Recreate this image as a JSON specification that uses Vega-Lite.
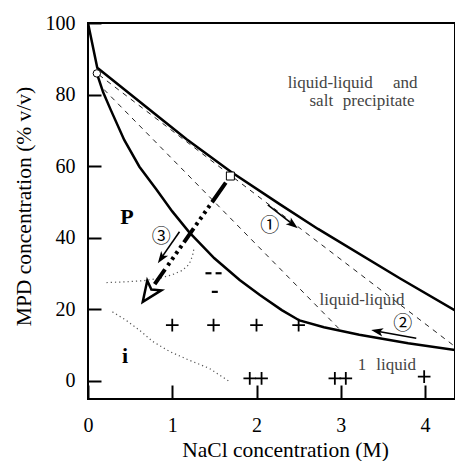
{
  "$schema": "https://vega.github.io/schema/vega-lite/v6.json",
  "width": 367,
  "height": 376,
  "autosize": {"type": "none"},
  "padding": {"left": 88, "top": 23, "right": 0, "bottom": 62},
  "background": "white",
  "config": {"view": {"stroke": "black", "strokeWidth": 2}},
  "datasets": {
    "lines": [
      {"id": "upper", "o": 0, "x": 0, "y": 100},
      {"id": "upper", "o": 1, "x": 0.11, "y": 87.5},
      {"id": "upper", "o": 2, "x": 1.17, "y": 67.5},
      {"id": "upper", "o": 3, "x": 1.7, "y": 58.3},
      {"id": "upper", "o": 4, "x": 2.27, "y": 49.4},
      {"id": "upper", "o": 5, "x": 2.73, "y": 42.4},
      {"id": "upper", "o": 6, "x": 3.7, "y": 28.6},
      {"id": "upper", "o": 7, "x": 4.356, "y": 19.6},
      {"id": "lower", "o": 0, "x": 0.105, "y": 85.9},
      {"id": "lower", "o": 1, "x": 0.18, "y": 80.6},
      {"id": "lower", "o": 2, "x": 0.27, "y": 75.7},
      {"id": "lower", "o": 3, "x": 0.43, "y": 67.3},
      {"id": "lower", "o": 4, "x": 0.61, "y": 59.8},
      {"id": "lower", "o": 5, "x": 0.81, "y": 53.5},
      {"id": "lower", "o": 6, "x": 1.0, "y": 47.3},
      {"id": "lower", "o": 7, "x": 1.2, "y": 41.5},
      {"id": "lower", "o": 8, "x": 1.5, "y": 34.2},
      {"id": "lower", "o": 9, "x": 1.8, "y": 28.1},
      {"id": "lower", "o": 10, "x": 2.04, "y": 23.9},
      {"id": "lower", "o": 11, "x": 2.3, "y": 19.7},
      {"id": "lower", "o": 12, "x": 2.51, "y": 16.8},
      {"id": "lower", "o": 13, "x": 2.8, "y": 14.9},
      {"id": "lower", "o": 14, "x": 3.22, "y": 12.8},
      {"id": "lower", "o": 15, "x": 3.8, "y": 10.4},
      {"id": "lower", "o": 16, "x": 4.356, "y": 8.5},
      {"id": "tieA", "o": 0, "x": 0.13, "y": 85.5},
      {"id": "tieA", "o": 1, "x": 4.356, "y": 9.5},
      {"id": "tieB", "o": 0, "x": 0.19, "y": 81.4},
      {"id": "tieB", "o": 1, "x": 3.0, "y": 14.0},
      {"id": "dot1", "o": 0, "x": 0.22, "y": 27.4},
      {"id": "dot1", "o": 1, "x": 0.45, "y": 27.6},
      {"id": "dot1", "o": 2, "x": 0.65, "y": 27.9},
      {"id": "dot1", "o": 3, "x": 0.85, "y": 28.6},
      {"id": "dot1", "o": 4, "x": 1.0, "y": 29.6},
      {"id": "dot1", "o": 5, "x": 1.12, "y": 30.8},
      {"id": "dot1", "o": 6, "x": 1.2, "y": 32.5},
      {"id": "dot1", "o": 7, "x": 1.24, "y": 34.8},
      {"id": "dot1", "o": 8, "x": 1.26, "y": 37.2},
      {"id": "dot2", "o": 0, "x": 0.29, "y": 19.2},
      {"id": "dot2", "o": 1, "x": 0.45, "y": 16.9},
      {"id": "dot2", "o": 2, "x": 0.61, "y": 14.1},
      {"id": "dot2", "o": 3, "x": 0.77, "y": 10.9},
      {"id": "dot2", "o": 4, "x": 0.97, "y": 8.1},
      {"id": "dot2", "o": 5, "x": 1.2, "y": 5.7},
      {"id": "dot2", "o": 6, "x": 1.44, "y": 3.4},
      {"id": "dot2", "o": 7, "x": 1.68, "y": -0.3},
      {"id": "big", "o": 0, "x": 1.69, "y": 57.2},
      {"id": "big", "o": 1, "x": 0.79, "y": 26.9},
      {"id": "a1", "o": 0, "x": 2.134, "y": 49.1},
      {"id": "a1", "o": 1, "x": 2.45, "y": 43.3},
      {"id": "a2", "o": 0, "x": 3.896, "y": 11.8},
      {"id": "a2", "o": 1, "x": 3.4, "y": 13.9},
      {"id": "a3", "o": 0, "x": 1.086, "y": 41.6},
      {"id": "a3", "o": 1, "x": 0.85, "y": 33.6}
    ],
    "heads": [
      {"id": "h1", "x": 2.49, "y": 42.6},
      {"id": "h2", "x": 3.361, "y": 14.1},
      {"id": "h3", "x": 0.829, "y": 32.8},
      {"id": "hb", "x": 0.65, "y": 22.0}
    ],
    "marks": [
      {"kind": "circle", "x": 0.105, "y": 85.9},
      {"kind": "square", "x": 1.69, "y": 57.2},
      {"kind": "plus", "x": 1.0, "y": 15.5},
      {"kind": "plus", "x": 1.49, "y": 15.5},
      {"kind": "plus", "x": 2.0, "y": 15.5},
      {"kind": "plus", "x": 2.5, "y": 15.5},
      {"kind": "plus", "x": 1.92, "y": 0.6},
      {"kind": "plus", "x": 2.06, "y": 0.6},
      {"kind": "plus", "x": 2.93, "y": 0.6},
      {"kind": "plus", "x": 3.06, "y": 0.6},
      {"kind": "plus", "x": 3.99, "y": 1.1},
      {"kind": "minus", "x": 1.43, "y": 30.0},
      {"kind": "minus", "x": 1.55, "y": 30.0},
      {"kind": "minus", "x": 1.505, "y": 24.8}
    ],
    "texts": [
      {"kind": "region", "t": "liquid-liquid", "x": 2.371, "y": 81.9},
      {"kind": "region", "t": "and", "x": 3.62, "y": 81.9},
      {"kind": "region", "t": "salt", "x": 2.629, "y": 76.7},
      {"kind": "region", "t": "precipitate", "x": 3.024, "y": 76.7},
      {"kind": "region", "t": "liquid-liquid", "x": 2.748, "y": 21.2},
      {"kind": "region", "t": "1", "x": 3.202, "y": 2.9},
      {"kind": "region", "t": "liquid", "x": 3.421, "y": 2.9},
      {"kind": "bold", "t": "P", "x": 0.463, "y": 45.8},
      {"kind": "bold", "t": "i", "x": 0.44, "y": 6.9},
      {"kind": "circ", "t": "①", "x": 2.157, "y": 43.2},
      {"kind": "circ", "t": "②", "x": 3.737, "y": 15.8},
      {"kind": "circ", "t": "③", "x": 0.869, "y": 40.1}
    ]
  },
  "encoding": {
    "x": {
      "field": "x", "type": "quantitative",
      "scale": {"domain": [0, 4.356], "nice": false, "zero": false},
      "axis": {
        "values": [0, 1, 2, 3, 4], "tickSize": -14, "tickWidth": 2, "tickColor": "black",
        "domain": false, "grid": false, "labelFont": "Liberation Serif", "labelFontSize": 20,
        "labelColor": "black", "labelPadding": 30, "labelFlush": false, "labelOverlap": false,
        "titleFont": "Liberation Serif", "titleFontSize": 21.5, "titleFontWeight": "normal",
        "titleColor": "black", "titleX": 197, "titleY": 57, "titleBaseline": "alphabetic"
      },
      "title": "NaCl concentration (M)"
    },
    "y": {
      "field": "y", "type": "quantitative",
      "scale": {"domain": [-5.17, 100], "nice": false, "zero": false},
      "axis": {
        "values": [0, 20, 40, 60, 80, 100], "tickSize": -13, "tickWidth": 2, "tickColor": "black",
        "domain": false, "grid": false, "labelFont": "Liberation Serif", "labelFontSize": 20,
        "labelColor": "black", "labelPadding": 26, "labelFlush": false, "labelOverlap": false,
        "titleFont": "Liberation Serif", "titleFontSize": 21.5, "titleFontWeight": "normal",
        "titleColor": "black", "titleX": -64, "titleY": 183, "titleBaseline": "middle", "titleAlign": "center"
      },
      "title": "MPD concentration (% v/v)"
    }
  },
  "layer": [
    {
      "data": {"name": "lines"},
      "transform": [{"filter": {"field": "id", "oneOf": ["tieA", "tieB"]}}],
      "mark": {"type": "line", "color": "#222", "strokeWidth": 1, "strokeDash": [5, 5], "clip": true},
      "encoding": {"detail": {"field": "id"}, "order": {"field": "o"}}
    },
    {
      "data": {"name": "lines"},
      "transform": [{"filter": {"field": "id", "oneOf": ["dot1", "dot2"]}}],
      "mark": {"type": "line", "color": "#555", "strokeWidth": 1.2, "strokeDash": [1.2, 3], "clip": true},
      "encoding": {"detail": {"field": "id"}, "order": {"field": "o"}}
    },
    {
      "data": {"name": "lines"},
      "transform": [{"filter": {"field": "id", "oneOf": ["upper", "lower"]}}],
      "mark": {"type": "line", "color": "black", "strokeWidth": 2.5, "clip": true},
      "encoding": {"detail": {"field": "id"}, "order": {"field": "o"}}
    },
    {
      "data": {"name": "lines"},
      "transform": [{"filter": {"field": "id", "equal": "big"}}],
      "mark": {"type": "line", "color": "black", "strokeWidth": 4, "strokeCap": "butt", "clip": true,
        "strokeDash": [0, 8, 24, 4, 3, 4, 3, 4, 3, 4, 3, 4, 17, 4, 3, 4, 3, 4, 3, 4, 3, 5, 18, 40]},
      "encoding": {"order": {"field": "o"}}
    },
    {
      "data": {"name": "lines"},
      "transform": [{"filter": {"field": "id", "oneOf": ["a1", "a2", "a3"]}}],
      "mark": {"type": "line", "color": "black", "strokeWidth": 1.6, "clip": true},
      "encoding": {"detail": {"field": "id"}, "order": {"field": "o"}}
    },
    {
      "data": {"name": "heads"},
      "transform": [{"filter": {"field": "id", "equal": "h1"}}],
      "mark": {"type": "point", "shape": "M0,0L0.7,2L0,1.5L-0.7,2Z", "size": 144, "angle": 127.5,
        "filled": true, "color": "black", "opacity": 1}
    },
    {
      "data": {"name": "heads"},
      "transform": [{"filter": {"field": "id", "equal": "h2"}}],
      "mark": {"type": "point", "shape": "M0,0L0.7,2L0,1.5L-0.7,2Z", "size": 144, "angle": 280.5,
        "filled": true, "color": "black", "opacity": 1}
    },
    {
      "data": {"name": "heads"},
      "transform": [{"filter": {"field": "id", "equal": "h3"}}],
      "mark": {"type": "point", "shape": "M0,0L0.7,2L0,1.5L-0.7,2Z", "size": 144, "angle": 214.5,
        "filled": true, "color": "black", "opacity": 1}
    },
    {
      "data": {"name": "heads"},
      "transform": [{"filter": {"field": "id", "equal": "hb"}}],
      "mark": {"type": "point", "shape": "M0,0L0.85,2L0,1.5L-0.85,2Z", "size": 400, "angle": 215,
        "filled": true, "fill": "white", "stroke": "black", "strokeWidth": 2.5, "opacity": 1}
    },
    {
      "data": {"name": "marks"},
      "transform": [{"filter": {"field": "kind", "equal": "circle"}}],
      "mark": {"type": "point", "shape": "circle", "size": 55, "filled": true, "fill": "white",
        "stroke": "black", "strokeWidth": 1, "opacity": 1}
    },
    {
      "data": {"name": "marks"},
      "transform": [{"filter": {"field": "kind", "equal": "square"}}],
      "mark": {"type": "point", "shape": "square", "size": 64, "filled": true, "fill": "white",
        "stroke": "black", "strokeWidth": 1, "opacity": 1}
    },
    {
      "data": {"name": "marks"},
      "transform": [{"filter": {"field": "kind", "equal": "plus"}}],
      "mark": {"type": "point", "shape": "M-1,0L1,0M0,-1L0,1", "size": 160, "filled": false,
        "stroke": "black", "strokeWidth": 1.8, "opacity": 1}
    },
    {
      "data": {"name": "marks"},
      "transform": [{"filter": {"field": "kind", "equal": "minus"}}],
      "mark": {"type": "point", "shape": "M-1,0L1,0", "size": 36, "filled": false,
        "stroke": "black", "strokeWidth": 2.2, "opacity": 1}
    },
    {
      "data": {"name": "texts"},
      "transform": [{"filter": {"field": "kind", "equal": "region"}}],
      "mark": {"type": "text", "font": "Liberation Serif", "fontSize": 17, "color": "#444",
        "align": "left", "baseline": "alphabetic"},
      "encoding": {"text": {"field": "t"}}
    },
    {
      "data": {"name": "texts"},
      "transform": [{"filter": {"field": "kind", "equal": "bold"}}],
      "mark": {"type": "text", "font": "Liberation Serif", "fontSize": 22, "fontWeight": "bold",
        "color": "black", "align": "center", "baseline": "middle"},
      "encoding": {"text": {"field": "t"}}
    },
    {
      "data": {"name": "texts"},
      "transform": [{"filter": {"field": "kind", "equal": "circ"}}],
      "mark": {"type": "text", "font": "Noto Sans CJK JP", "fontSize": 19, "color": "black",
        "align": "center", "baseline": "middle"},
      "encoding": {"text": {"field": "t"}}
    }
  ]
}
